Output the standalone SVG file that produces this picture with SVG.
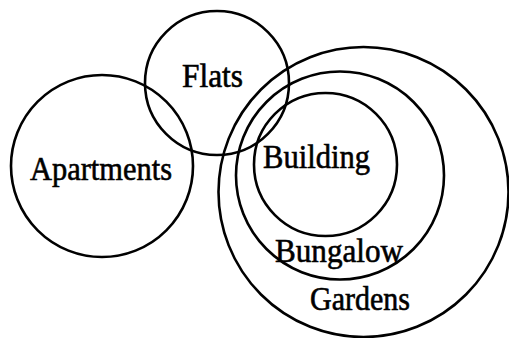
<svg xmlns="http://www.w3.org/2000/svg" width="509" height="338" viewBox="0 0 509 338">
<style>
.c{fill:none;stroke:#000;stroke-width:2.6}
.t{font-family:"Liberation Serif","Times New Roman",serif;font-size:33px;fill:#000;stroke:#000;stroke-width:0.6}
</style>
<rect width="509" height="338" fill="#fff"/>
<g id="apartments"><circle class="c" cx="102" cy="166" r="91"/><text class="t" x="30" y="180" textLength="142" lengthAdjust="spacingAndGlyphs">Apartments</text></g>
<g id="flats"><circle class="c" cx="217" cy="83" r="72"/><text class="t" x="182" y="87" textLength="61" lengthAdjust="spacingAndGlyphs">Flats</text></g>
<g id="gardens"><circle class="c" cx="363.5" cy="192" r="145"/><text class="t" x="310" y="310" textLength="100" lengthAdjust="spacingAndGlyphs">Gardens</text></g>
<g id="bungalow"><circle class="c" cx="340" cy="175.5" r="104"/><text class="t" x="275" y="262" textLength="128" lengthAdjust="spacingAndGlyphs">Bungalow</text></g>
<g id="building"><circle class="c" cx="325.5" cy="164.5" r="71.5"/><text class="t" x="263" y="168" textLength="107" lengthAdjust="spacingAndGlyphs">Building</text></g>
<g id="connectors"/>
</svg>
